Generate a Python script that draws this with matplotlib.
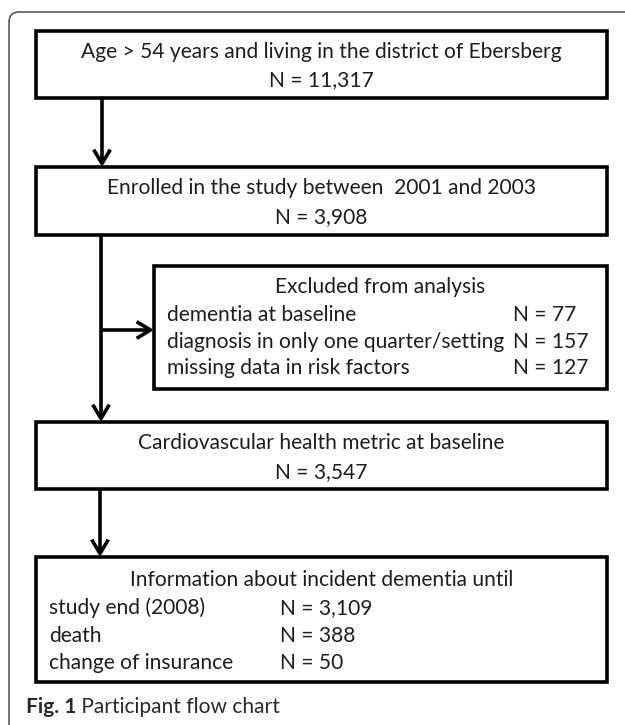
import matplotlib.pyplot as plt
from matplotlib.patches import FancyBboxPatch, Rectangle, FancyArrowPatch

plt.rcParams['font.family'] = ['Lato', 'DejaVu Sans']

# flow chart content
top_title = "Age > 54 years and living in the district of Ebersberg"
top_n = 11317
enrol_title = "Enrolled in the study between  2001 and 2003"
enrol_n = 3908
excl_title = "Excluded from analysis"
excl_reasons = ["dementia at baseline",
                "diagnosis in only one quarter/setting",
                "missing data in risk factors"]
excl_n = [77, 157, 127]
cvh_title = "Cardiovascular health metric at baseline"
cvh_n = 3547
follow_title = "Information about incident dementia until"
follow_reasons = ["study end (2008)", "death", "change of insurance"]
follow_n = [3109, 388, 50]
caption_bold = "Fig. 1"
caption_text = " Participant flow chart"

W, H = 625, 725
fig = plt.figure(figsize=(W / 100, H / 100), dpi=100)
ax = fig.add_axes([0, 0, 1, 1])
ax.set_xlim(0, W)
ax.set_ylim(H, 0)
ax.axis('off')

txt_col = '#1e1e1e'
box_lw = 2.6

# pick font size so the first line is about as wide as in the picture
renderer = fig.canvas.get_renderer()
probe = ax.text(0, 0, top_title, fontsize=14)
w = probe.get_window_extent(renderer).width
fs = 14 * 482 / w
probe.remove()


def nfmt(v):
    return "N = {:,}".format(v)


def box(x0, y0, x1, y1):
    ax.add_patch(Rectangle((x0, y0), x1 - x0, y1 - y0, fill=False,
                           ec='black', lw=box_lw, joinstyle='miter'))


def arrow(x, y0, y1, horizontal=False):
    if horizontal:
        p0, p1 = (y0, x), (y1, x)
    else:
        p0, p1 = (x, y0), (x, y1)
    ax.add_patch(FancyArrowPatch(p0, p1, arrowstyle='->,head_length=1.0,head_width=0.6',
                                 mutation_scale=10, lw=box_lw, color='black',
                                 shrinkA=0, shrinkB=0, capstyle='butt'))


# outer frame, open at the right and bottom
ax.add_patch(FancyBboxPatch((9, 12), 700, 800, boxstyle='round,pad=0,rounding_size=10',
                            fill=False, ec='#3a3a3a', lw=1.0))

xl, xr = 36, 607

# box 1
box(xl, 31, xr, 98)
ax.text((xl + xr) / 2, 52, top_title, ha='center', va='center', fontsize=fs, color=txt_col)
ax.text((xl + xr) / 2, 80, nfmt(top_n), ha='center', va='center', fontsize=fs, color=txt_col)

# box 2
box(xl, 167, xr, 235)
ax.text((xl + xr) / 2, 188, enrol_title, ha='center', va='center', fontsize=fs, color=txt_col)
ax.text((xl + xr) / 2, 217, nfmt(enrol_n), ha='center', va='center', fontsize=fs, color=txt_col)

# box 3 (exclusions)
bx0 = 154
box(bx0, 266, xr, 389)
ax.text((bx0 + xr) / 2, 287, excl_title, ha='center', va='center', fontsize=fs, color=txt_col)
for i, (lab, n) in enumerate(zip(excl_reasons, excl_n)):
    y = 315 + i * 26.5
    ax.text(167, y, lab, ha='left', va='center', fontsize=fs, color=txt_col)
    ax.text(513, y, nfmt(n), ha='left', va='center', fontsize=fs, color=txt_col)

# box 4
box(xl, 422, xr, 489)
ax.text((xl + xr) / 2, 443, cvh_title, ha='center', va='center', fontsize=fs, color=txt_col)
ax.text((xl + xr) / 2, 472, nfmt(cvh_n), ha='center', va='center', fontsize=fs, color=txt_col)

# box 5
box(xl, 557, xr, 682)
ax.text((xl + xr) / 2, 580, follow_title, ha='center', va='center', fontsize=fs, color=txt_col)
for i, (lab, n) in enumerate(zip(follow_reasons, follow_n)):
    y = 608 + i * 27.5
    ax.text(49, y, lab, ha='left', va='center', fontsize=fs, color=txt_col)
    ax.text(280, y, nfmt(n), ha='left', va='center', fontsize=fs, color=txt_col)

# connectors
arrow(102, 98, 167)
ax.plot([101, 101], [235, 330], color='black', lw=box_lw, solid_capstyle='butt')
arrow(101, 330, 422)
arrow(330, 101, bx0, horizontal=True)
arrow(100, 489, 557)

# caption
t1 = ax.text(26, 707, caption_bold, ha='left', va='center', fontsize=fs, fontweight='bold',
             color='#2a2a2a')
fig.canvas.draw()
bb = t1.get_window_extent(renderer)
x_end = ax.transData.inverted().transform((bb.x1, bb.y0))[0]
ax.text(x_end, 707, caption_text, ha='left', va='center', fontsize=fs, color='#2a2a2a')

fig.savefig('out.png', dpi=100)
